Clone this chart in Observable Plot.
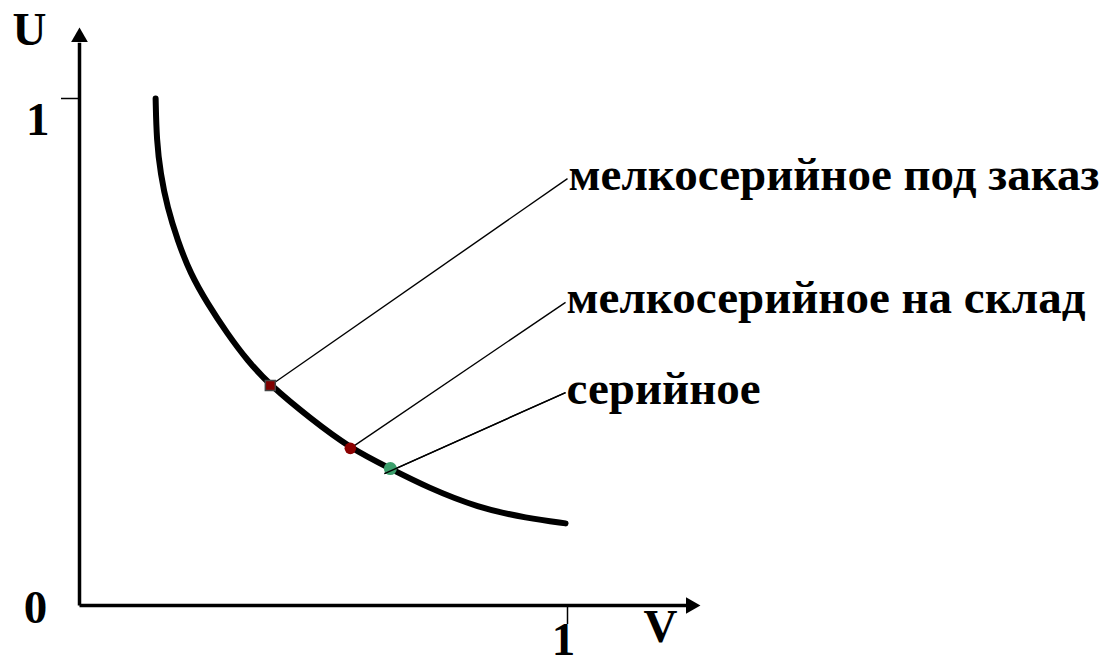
<!DOCTYPE html>
<html>
<head>
<meta charset="utf-8">
<script src="https://cdn.jsdelivr.net/npm/d3@7"></script>
<script src="https://cdn.jsdelivr.net/npm/@observablehq/plot@0.6"></script>
<style>
  html, body { margin: 0; padding: 0; background: #fff; }
  #chart svg { display: block; }
</style>
</head>
<body>
<div id="chart"></div>
<script>
// Curve U(V)
const curveV = [0.156, 0.158, 0.166, 0.180, 0.201, 0.227, 0.262, 0.303, 0.344, 0.391, 0.473, 0.555, 0.637, 0.713, 0.816, 0.918, 0.996];
const curveU = [1.000, 0.917, 0.852, 0.785, 0.720, 0.655, 0.596, 0.536, 0.483, 0.434, 0.369, 0.310, 0.270, 0.233, 0.193, 0.172, 0.162];

// Production types (points on the curve) and their labels
const types = ["мелкосерийное под заказ", "мелкосерийное на склад", "серийное"];
const typeV = [0.391, 0.555, 0.637];
const typeU = [0.434, 0.310, 0.270];
const typeColor = ["#800000", "#8b0000", "#3c9f6c"];
const leaderStartV = [0.391, 0.555, 0.625];
const leaderStartU = [0.434, 0.310, 0.260];
const leaderEndV = [1.0, 0.996, 0.996];
const leaderEndU = [0.842, 0.598, 0.420];

// Axes
const axisEndV = 1.2725;  // x axis arrow tip
const axisEndU = 1.14;    // y axis arrow tip
const tickValues = [1];

const curve = curveV.map((v, i) => ({V: v, U: curveU[i]}));
const pts = types.map((t, i) => ({
  name: t, V: typeV[i], U: typeU[i], color: typeColor[i],
  v1: leaderStartV[i], u1: leaderStartU[i], v2: leaderEndV[i], u2: leaderEndU[i]
}));

const serif = "'Liberation Serif', 'Times New Roman', serif";

const chart = Plot.plot({
  width: 1113,
  height: 665,
  marginLeft: 79,
  marginRight: 546,
  marginTop: 98,
  marginBottom: 60,
  x: {domain: [0, 1]},
  y: {domain: [0, 1]},
  style: {fontFamily: serif, background: "#fff", color: "#000", overflow: "visible"},
  marks: [
    // axis lines
    Plot.link([{x1: 0, y1: 0, x2: axisEndV - 0.025, y2: 0}], {x1: "x1", y1: "y1", x2: "x2", y2: "y2", stroke: "#000", strokeWidth: 3.5}),
    Plot.link([{x1: 0, y1: 0, x2: 0, y2: axisEndU - 0.03}], {x1: "x1", y1: "y1", x2: "x2", y2: "y2", stroke: "#000", strokeWidth: 3.5}),
    // arrow heads
    Plot.dot([{V: axisEndV - 0.0198, U: 0}], {x: "V", y: "U", symbol: "triangle", r: 6.2, rotate: 90, fill: "#000", stroke: "none"}),
    Plot.dot([{V: 0, U: axisEndU - 0.019}], {x: "V", y: "U", symbol: "triangle", r: 6.2, fill: "#000", stroke: "none"}),
    // ticks
    Plot.axisY({ticks: tickValues, tickFormat: () => "", anchor: "left", tickSize: 18, strokeWidth: 1.5, label: null}),
    Plot.axisX({ticks: tickValues, tickFormat: () => "", anchor: "bottom", tickSize: 19, strokeWidth: 1.5, label: null}),
    // tick labels
    Plot.axisY({ticks: tickValues, tickFormat: d => String(d), anchor: "left", tickSize: 0, tickPadding: 30, dy: 21,
      fontSize: 47, fontWeight: "bold", label: null}),
    Plot.axisX({ticks: tickValues, tickFormat: d => String(d), anchor: "bottom", tickSize: 0, tickPadding: 16, dx: -4,
      fontSize: 47, fontWeight: "bold", label: null}),
    // axis names and origin
    Plot.text(["U"], {x: () => 0, y: () => axisEndU, text: d => d, dx: -50, dy: 2, fontSize: 47, fontWeight: "bold", textAnchor: "middle"}),
    Plot.text(["V"], {x: () => axisEndV, y: () => 0, text: d => d, dx: -40, dy: 21, fontSize: 47, fontWeight: "bold", textAnchor: "middle"}),
    Plot.text(["0"], {x: () => 0, y: () => 0, text: d => d, dx: -44, dy: 2, fontSize: 47, fontWeight: "bold", textAnchor: "middle"}),
    // the curve
    Plot.line(curve, {x: "V", y: "U", curve: "basis", stroke: "#000", strokeWidth: 6}),
    // leader lines
    Plot.link(pts, {x1: "v1", y1: "u1", x2: "v2", y2: "u2", stroke: "#000", strokeWidth: 1.4}),
    // markers
    Plot.dot(pts.slice(0, 1), {x: "V", y: "U", symbol: "square", r: 5.6, fill: "color", stroke: "#444", strokeWidth: 1.5}),
    Plot.dot(pts.slice(1, 2), {x: "V", y: "U", symbol: "circle", r: 5.8, fill: "color", stroke: "none"}),
    Plot.dot(pts.slice(2, 3), {x: "V", y: "U", symbol: "circle", r: 6.5, fill: "color", stroke: "none"}),
    // leader start drawn over the green marker as in the reference
    Plot.link(pts.slice(2, 3), {x1: "v1", y1: "u1", x2: "v2", y2: "u2", stroke: "#000", strokeWidth: 1.4}),
    // labels
    Plot.text(pts, {x: "v2", y: "u2", text: "name", textAnchor: "start", dx: 1, dy: -4, fontSize: 47, fontWeight: "bold"})
  ]
});
document.getElementById("chart").appendChild(chart);
</script>
</body>
</html>
